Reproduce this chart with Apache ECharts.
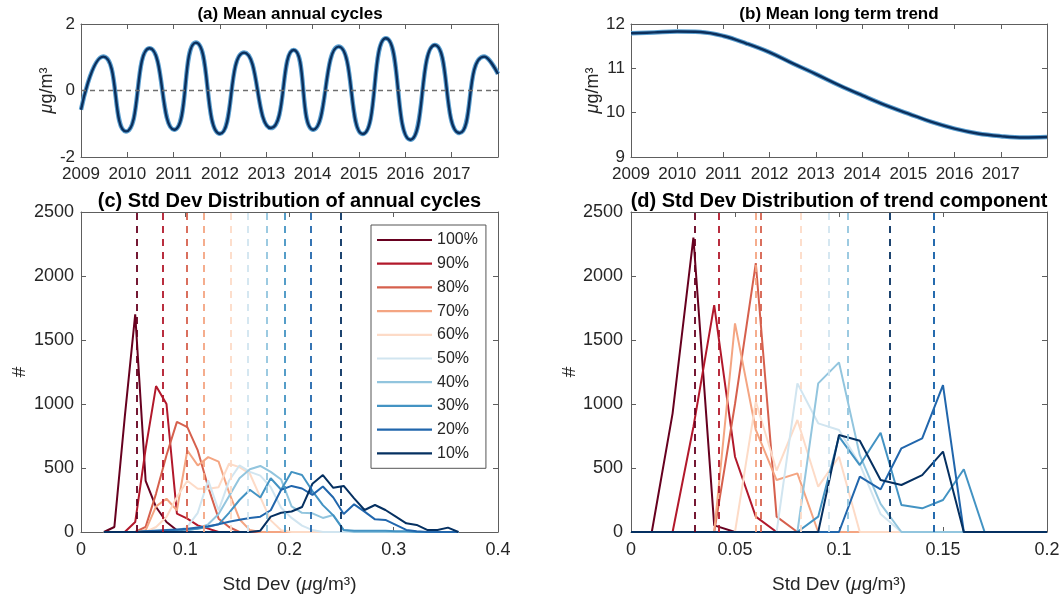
<!DOCTYPE html>
<html><head><meta charset="utf-8">
<script src="https://cdn.jsdelivr.net/npm/echarts@6/dist/echarts.min.js"></script>
<style>html,body{margin:0;padding:0;background:#fff}#c{width:1064px;height:600px}</style>
</head><body><div id="c"></div>
<script>
// ---------- data ----------
const yearsA = [2009.0, 2009.48, 2009.97, 2010.48, 2011.01, 2011.48, 2012.00, 2012.52, 2013.10, 2013.59, 2014.01, 2014.56, 2015.08, 2015.58, 2016.11, 2016.64, 2017.17, 2017.70, 2018.0];
const cycleA = [-0.58, 1.02, -1.23, 1.27, -1.18, 1.44, -1.30, 1.14, -1.13, 1.22, -1.18, 1.32, -1.31, 1.57, -1.48, 1.37, -1.28, 1.02, 0.50];

const yearsB = [2009, 2009.5, 2010, 2010.5, 2011, 2011.5, 2012, 2012.5, 2013, 2013.5, 2014, 2014.5, 2015, 2015.5, 2016, 2016.5, 2017, 2017.5, 2018];
const trendB = [11.79, 11.81, 11.83, 11.82, 11.73, 11.56, 11.36, 11.11, 10.87, 10.62, 10.39, 10.17, 9.98, 9.79, 9.64, 9.53, 9.47, 9.44, 9.45];

const pctNames = ['100%', '90%', '80%', '70%', '60%', '50%', '40%', '30%', '20%', '10%'];

const binsC = [0.022,0.032,0.042,0.052,0.062,0.072,0.082,0.092,0.102,0.112,0.122,0.132,0.142,0.152,0.162,0.172,0.182,0.192,0.202,0.212,0.222,0.232,0.242,0.252,0.262,0.272,0.282,0.292,0.302,0.312,0.322,0.332,0.342,0.352,0.362];
const hc100 = [0,39,900,1700,400,195,78,13,0,0, 0,0,0,0,0,0,0,0,0,0, 0,0,0,0,0,0,0,0,0,0, 0,0,0,0,0];
const hc90  = [0,0,0,78,650,1140,1000,143,104,52, 26,0,0,0,0,0,0,0,0,0, 0,0,0,0,0,0,0,0,0,0, 0,0,0,0,0];
const hc80  = [0,0,0,0,40,300,600,860,820,637, 351,104,39,0,0,0,0,0,0,0, 0,0,0,0,0,0,0,0,0,0, 0,0,0,0,0];
const hc70  = [0,0,0,0,13,200,260,170,637,520, 585,550,310,100,15,0,0,0,0,0, 0,0,0,0,0,0,0,0,0,0, 0,0,0,0,0];
const hc60  = [0,0,0,0,0,39,117,273,400,338, 338,350,533,507,455,273,91,13,0,0, 0,0,0,0,0,0,0,0,0,0, 0,0,0,0,0];
const hc50  = [0,0,0,0,0,0,0,10,40,150, 403,169,400,520,470,440,350,190,110,50, 15,0,0,0,0,0,0,0,0,0, 0,0,0,0,0];
const hc40  = [0,0,0,0,0,0,0,0,10,30, 60,140,280,420,490,516,470,410,200,150, 146,110,133,15,0,0,0,0,0,0, 0,0,0,0,0];
const hc30  = [0,0,0,0,5,10,10,15,20,25, 40,60,150,250,330,270,420,330,470,445, 320,210,130,15,10,10,10,10,5,5, 0,0,0,0,0];
const hc20  = [0,0,0,0,5,10,15,20,25,35, 45,60,80,95,110,120,170,330,360,340, 290,355,270,140,216,159,99,94,55,16, 5,0,0,0,0];
const hc10  = [0,0,0,0,0,0,0,0,0,0, 0,0,0,0,0,10,120,150,160,195, 377,445,345,360,263,172,211,172,120,68, 55,16,16,34,0];
const meanC = [0.053, 0.078, 0.101, 0.1175, 0.144, 0.1595, 0.178, 0.1955, 0.2205, 0.249];

const binsD = [0,0.01,0.02,0.03,0.04,0.05,0.06,0.07,0.08,0.09,0.10,0.11,0.12,0.13,0.14,0.15,0.16,0.17,0.18,0.19,0.20];
const hd100 = [0,0,927,2300,52,0,0,0,0,0,0,0,0,0,0,0,0,0,0,0,0];
const hd90  = [0,0,0,820,1773,588,120,0,0,0,0,0,0,0,0,0,0,0,0,0,0];
const hd80  = [0,0,0,0,0,1000,2100,120,0,0,0,0,0,0,0,0,0,0,0,0,0];
const hd70  = [0,0,0,0,0,1630,797,406,458,0,0,0,0,0,0,0,0,0,0,0,0];
const hd60  = [0,0,0,0,0,0,1020,480,875,354,588,0,0,0,0,0,0,0,0,0,0];
const hd50  = [0,0,0,0,0,0,0,0,1161,849,797,530,140,0,0,0,0,0,0,0,0];
const hd40  = [0,0,0,0,0,0,0,0,0,1161,1325,600,220,0,0,0,0,0,0,0,0];
const hd30  = [0,0,0,0,0,0,0,0,0,120,745,523,776,211,185,250,490,0,0,0,0];
const hd20  = [0,0,0,0,0,0,0,0,0,0,0,432,333,654,732,1148,0,0,0,0,0];
const hd10  = [0,0,0,0,0,0,0,0,0,0,758,713,406,367,445,628,0,0,0,0,0];
const meanD = [0.0305, 0.0423, 0.0625, 0.0601, 0.0816, 0.0949, 0.1042, 0.1455, 0.1455, 0.1245];

// ---------- style ----------
const palette = ['#67001f','#b2182b','#d6604d','#f4a582','#fddbc7','#d1e5f0','#92c5de','#4393c3','#2166ac','#053061'];
const FONT = 'Liberation Sans, Arial, sans-serif';
const AXC = '#5e5e5e';
const TXT = '#262626';

const histC = [hc100, hc90, hc80, hc70, hc60, hc50, hc40, hc30, hc20, hc10];
const histD = [hd100, hd90, hd80, hd70, hd60, hd50, hd40, hd30, hd20, hd10];

const grids = [
  {left: 81, top: 24, width: 417, height: 133},
  {left: 631, top: 24, width: 416, height: 133},
  {left: 81, top: 212, width: 417, height: 320},
  {left: 631, top: 212, width: 416, height: 320}
];

function nameStyle(fs) {
  return {fontSize: fs, color: TXT, fontFamily: FONT,
    rich: {it: {fontStyle: 'italic', fontSize: fs, color: TXT, fontFamily: FONT}}};
}
const plainFmt = v => String(+v.toFixed(4));

function xPair(gi, min, max, interval, fs, margin, fmt, name, nameGap, nfs) {
  const common = {gridIndex: gi, type: 'value', min: min, max: max, interval: interval,
    splitLine: {show: false},
    axisLine: {show: true, onZero: false, lineStyle: {color: AXC, width: 1}},
    axisTick: {show: true, inside: true, length: 5, lineStyle: {color: AXC}}};
  return [
    Object.assign({}, common, {position: 'bottom',
      axisLabel: {show: true, fontSize: fs, color: TXT, fontFamily: FONT, margin: margin, formatter: fmt || plainFmt, showMinLabel: true, showMaxLabel: true},
      name: name || '', nameLocation: 'middle', nameGap: nameGap || 0, nameTextStyle: nameStyle(nfs || fs)}),
    Object.assign({}, common, {position: 'top', axisLabel: {show: false}})
  ];
}
function yPair(gi, min, max, interval, fs, margin, name, nameGap, nfs) {
  const common = {gridIndex: gi, type: 'value', min: min, max: max, interval: interval,
    splitLine: {show: false},
    axisLine: {show: true, onZero: false, lineStyle: {color: AXC, width: 1}},
    axisTick: {show: true, inside: true, length: 5, lineStyle: {color: AXC}}};
  return [
    Object.assign({}, common, {position: 'left',
      axisLabel: {show: true, fontSize: fs, color: TXT, fontFamily: FONT, margin: margin, formatter: plainFmt, showMinLabel: true, showMaxLabel: true},
      name: name, nameLocation: 'middle', nameRotate: 90, nameGap: nameGap, nameTextStyle: nameStyle(nfs)}),
    Object.assign({}, common, {position: 'right', axisLabel: {show: false}})
  ];
}

const yearFmt = v => (v >= 2018 ? '' : String(v));
const unitName = '{it|\u03bc}g/m\u00b3';
const xName = 'Std Dev ({it|\u03bc}g/m\u00b3)';

const xAxis = [].concat(
  xPair(0, 2009, 2018, 1, 17, 9, yearFmt),
  xPair(1, 2009, 2018, 1, 17, 9, yearFmt),
  xPair(2, 0, 0.4, 0.1, 18, 9, null, xName, 43, 19),
  xPair(3, 0, 0.2, 0.05, 18, 9, null, xName, 43, 19)
);
const yAxis = [].concat(
  yPair(0, -2, 2, 2, 17, 6, unitName, 14, 18),
  yPair(1, 9, 12, 1, 17, 6, unitName, 14, 18),
  yPair(2, 0, 2500, 500, 18, 7, '#', 52, 19),
  yPair(3, 0, 2500, 500, 18, 8, '#', 50, 19)
);

const series = [];
// (a) mean annual cycle: light underlay + dark line
series.push({type: 'line', xAxisIndex: 0, yAxisIndex: 0, data: yearsA.map((y, i) => [y, cycleA[i]]),
  smooth: 0.6, showSymbol: false, symbol: 'none', silent: true,
  lineStyle: {width: 4.5, color: '#5b9fd0'},
  markLine: {symbol: 'none', silent: true, label: {show: false}, precision: 4,
    lineStyle: {type: [5, 4], color: '#6f6f6f', width: 1.3}, data: [{yAxis: 0}]}, z: 2});
series.push({type: 'line', xAxisIndex: 0, yAxisIndex: 0, data: yearsA.map((y, i) => [y, cycleA[i]]),
  smooth: 0.6, showSymbol: false, symbol: 'none', silent: true,
  lineStyle: {width: 2.4, color: '#0b2f5c'}, z: 3});
// (b) trend
series.push({type: 'line', xAxisIndex: 2, yAxisIndex: 2, data: yearsB.map((y, i) => [y, trendB[i]]),
  smooth: 0.4, showSymbol: false, symbol: 'none', silent: true,
  lineStyle: {width: 4.5, color: '#5b9fd0'}, z: 2});
series.push({type: 'line', xAxisIndex: 2, yAxisIndex: 2, data: yearsB.map((y, i) => [y, trendB[i]]),
  smooth: 0.4, showSymbol: false, symbol: 'none', silent: true,
  lineStyle: {width: 2.4, color: '#0b2f5c'}, z: 3});

// (c) and (d) histograms with dashed reference lines
function histSeries(xi, bins, hists, means) {
  hists.forEach((h, i) => {
    series.push({type: 'line', name: pctNames[i], xAxisIndex: xi, yAxisIndex: xi,
      data: bins.map((b, j) => [b, h[j]]),
      showSymbol: false, symbol: 'none', silent: true,
      lineStyle: {width: 2, color: palette[i]}, itemStyle: {color: palette[i]},
      markLine: {symbol: 'none', silent: true, label: {show: false}, precision: 5,
        lineStyle: {type: [7, 6], width: 1.8, color: palette[i]}, data: [{xAxis: means[i]}]},
      z: 2 + i * 0.1});
  });
}
histSeries(4, binsC, histC, meanC);
histSeries(6, binsD, histD, meanD);

const titles = [
  {x: 290, y: 14, text: '(a) Mean annual cycles', fs: 17},
  {x: 839, y: 14, text: '(b) Mean long term trend', fs: 17},
  {x: 289.5, y: 201, text: '(c) Std Dev Distribution of annual cycles', fs: 20},
  {x: 839, y: 201, text: '(d) Std Dev Distribution of trend component', fs: 20}
];

const option = {
  animation: false,
  backgroundColor: '#fff',
  grid: grids.map(g => Object.assign({containLabel: false}, g)),
  xAxis: xAxis,
  yAxis: yAxis,
  legend: {
    data: pctNames, orient: 'vertical', left: 371, top: 225,
    icon: 'rect', itemWidth: 55, itemHeight: 2.2, itemGap: 7.7,
    padding: [7, 8, 7, 6], borderColor: '#555', borderWidth: 1, backgroundColor: '#fff',
    selectedMode: false,
    textStyle: {fontSize: 16, lineHeight: 14, color: TXT, fontFamily: FONT}
  },
  graphic: titles.map(t => ({type: 'text', x: t.x, y: t.y, silent: true,
    style: {text: t.text, align: 'center', verticalAlign: 'middle', fill: '#000',
      font: 'bold ' + t.fs + 'px ' + FONT}})),
  series: series
};

const chart = echarts.init(document.getElementById('c'), null, {renderer: 'canvas'});
chart.setOption(option);
</script>
</body></html>
